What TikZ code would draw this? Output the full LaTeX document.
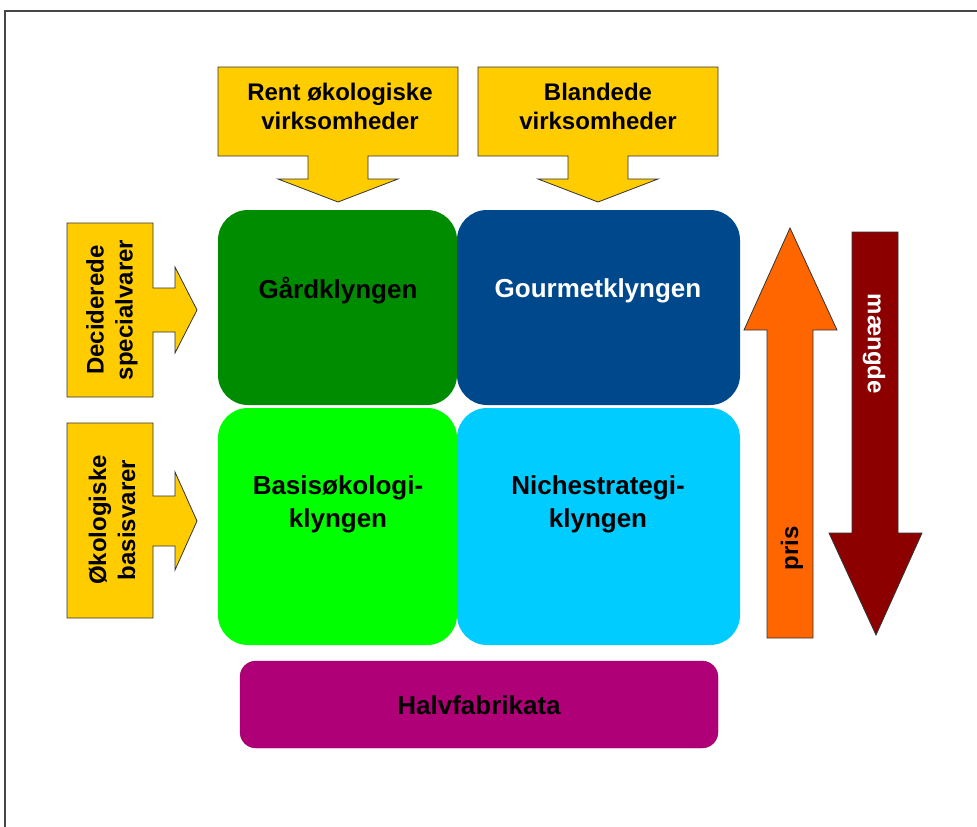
\documentclass[tikz,border=0pt]{standalone}
\usepackage{fontspec}
\setmainfont{Liberation Sans}
\definecolor{ygold}{RGB}{255,204,0}
\definecolor{dgreen}{RGB}{0,140,0}
\definecolor{dblue}{RGB}{0,72,140}
\definecolor{bgreen}{RGB}{0,255,0}
\definecolor{cyanq}{RGB}{0,204,255}
\definecolor{magq}{RGB}{176,0,120}
\definecolor{orangeq}{RGB}{255,102,0}
\definecolor{dredq}{RGB}{140,0,0}
\definecolor{framec}{RGB}{70,70,70}
\begin{document}
\begin{tikzpicture}[x=1pt,y=-1pt,
  yarrow/.style={fill=ygold,draw=black!80,line width=0.8pt,line join=miter},
  quad/.style={rounded corners=30pt},
  qtext/.style={font=\bfseries\fontsize{26}{33}\selectfont,align=center},
  atext/.style={font=\bfseries\fontsize{24}{29}\selectfont,align=center,text=black},
  vtext/.style={font=\bfseries\fontsize{24}{29}\selectfont}]
\useasboundingbox (0,0) rectangle (977,827);
% frame
\draw[framec,line width=1.6pt] (5,827) -- (5,11) -- (977,11);

% top arrows
\draw[yarrow] (218,67) -- (458,67) -- (458,156) -- (368,156) -- (368,179) -- (398,179) -- (338,202) -- (278,179) -- (308,179) -- (308,156) -- (218,156) -- cycle;
\node[atext] (t1) at (340,106) {Rent økologiske\\virksomheder};
\draw[yarrow] (478,67) -- (718,67) -- (718,156) -- (628,156) -- (628,179) -- (658,179) -- (598,202) -- (538,179) -- (568,179) -- (568,156) -- (478,156) -- cycle;
\node[atext] (t2) at (598,106) {Blandede\\virksomheder};

% left arrows
\draw[yarrow] (67,223) -- (153,223) -- (153,288) -- (175,288) -- (175,267) -- (197,310) -- (175,353) -- (175,332) -- (153,332) -- (153,397) -- (67,397) -- cycle;
\node[atext,rotate=90] (l1) at (112,310) {Deciderede\\specialvarer};
\draw[yarrow] (67,423) -- (153,423) -- (153,496) -- (175,496) -- (175,472) -- (197,521) -- (175,570) -- (175,546) -- (153,546) -- (153,618) -- (67,618) -- cycle;
\node[atext,rotate=90] (l2) at (112,520) {Økologiske\\basisvarer};

% quadrants
\fill[quad,dgreen] (218,210) rectangle (457,405);
\fill[quad,dblue] (457,210) rectangle (740,405);
\fill[quad,bgreen] (218,408) rectangle (457,645);
\fill[quad,cyanq] (457,408) rectangle (740,645);
\node[qtext,text=black] (gaard) at (338,291) {Gårdklyngen};
\node[qtext,text=white] (gourmet) at (598,291) {Gourmetklyngen};
\node[qtext,text=black] (basis) at (338,504) {Basisøkologi-\\klyngen};
\node[qtext,text=black] (niche) at (598,504) {Nichestrategi-\\klyngen};

% halvfabrikata
\draw[rounded corners=16pt,fill=magq,draw=magq!80!black,line width=0.4pt] (240,661) rectangle (718,748);
\node[qtext,text=black] (halv) at (479,705) {Halvfabrikata};

% right arrows
\draw[fill=orangeq,draw=black!80,line width=0.8pt] (767,638) -- (767,330) -- (744,330) -- (790,228) -- (837,330) -- (813,330) -- (813,638) -- cycle;
\node[vtext,rotate=90,text=black] (pris) at (792,548) {pris};
\draw[fill=dredq,draw=black!80,line width=0.8pt] (852,232) -- (898,232) -- (898,533) -- (922,533) -- (876,635) -- (829,533) -- (852,533) -- cycle;
\node[vtext,rotate=-90,text=white] (maengde) at (874,344) {mængde};
\end{tikzpicture}
\end{document}
